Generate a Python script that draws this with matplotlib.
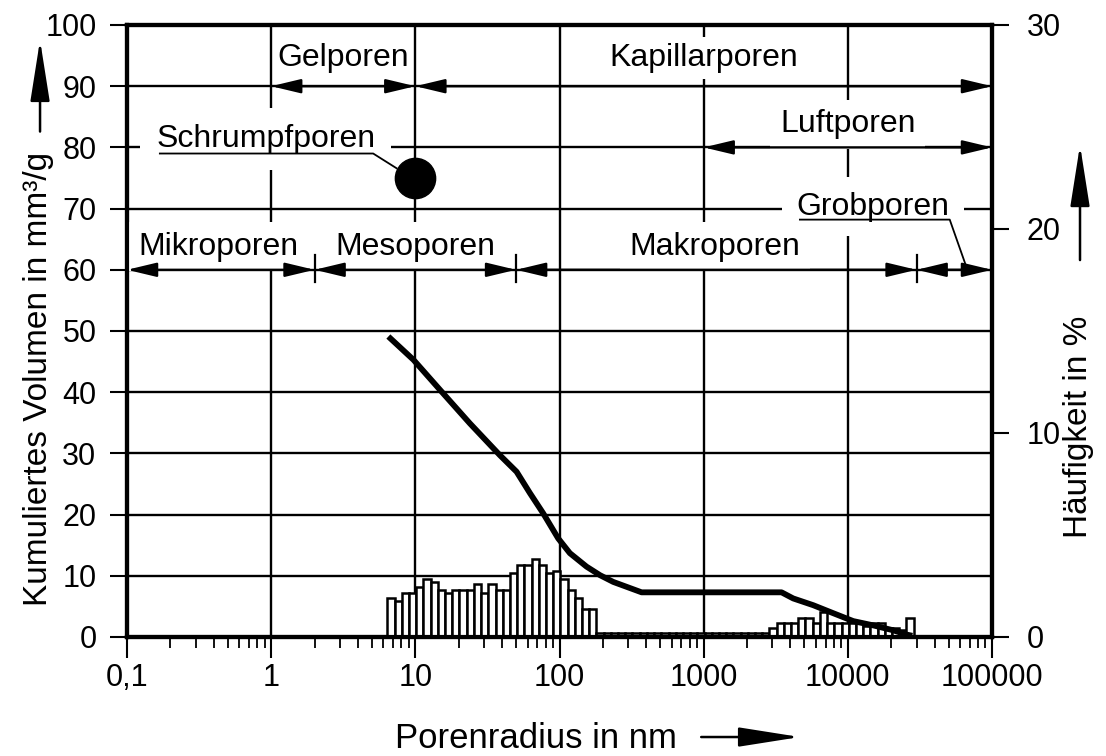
import numpy as np
import matplotlib
matplotlib.use("Agg")
import matplotlib.pyplot as plt
from matplotlib.patches import FancyArrowPatch
from matplotlib.ticker import FixedLocator, FixedFormatter, LogLocator, NullFormatter

plt.rcParams['font.family'] = ['Liberation Sans', 'DejaVu Sans']

# === Data ===
# cumulative pore volume (left axis, mm3/g) over pore radius (nm)
radius_nm = [6.5, 9.7, 15.2, 23.9, 38.6, 50.4, 62.4, 77.1, 98, 118, 154, 191, 236, 292, 371,
             3470, 4180, 5750, 7900, 10900, 15000, 20600, 25500, 28000]
cum_volume = [49.1, 45.3, 40.1, 34.9, 29.7, 27.0, 23.5, 20.2, 16.1, 13.7, 11.5, 10.1, 9.0, 8.2, 7.3,
              7.3, 6.3, 5.2, 3.9, 2.6, 1.9, 1.1, 0.4, 0.2]

# frequency histogram (right axis, %), log bins: 20 per decade starting at 6.4 nm
bin_start_nm = 6.4
bins_per_decade = 20
frequency = [1.90, 1.76, 2.17, 2.17, 2.44, 2.84, 2.71, 2.30, 2.17, 2.30,
             2.30, 2.30, 2.58, 2.17, 2.58, 2.30, 2.30, 3.12, 3.53, 3.53,
             3.81, 3.53, 3.12, 3.25, 2.84, 2.30, 1.90, 1.36, 1.36,
             0.22, 0.22, 0.22, 0.22, 0.22, 0.22, 0.22, 0.22, 0.22, 0.22,
             0.22, 0.22, 0.22, 0.22, 0.22, 0.22, 0.22, 0.22, 0.22, 0.22,
             0.22, 0.22, 0.22, 0.22,
             0.43, 0.70, 0.70, 0.70, 0.95, 0.95, 0.70, 1.24, 0.70, 0.70,
             0.70, 0.70, 0.70, 0.55, 0.70, 0.70, 0.43, 0.43, 0.34, 0.95]

x_ticks = [0.1, 1, 10, 100, 1000, 10000, 100000]
x_labels = ['0,1', '1', '10', '100', '1000', '10000', '100000']
y_left_ticks = [0, 10, 20, 30, 40, 50, 60, 70, 80, 90, 100]
y_right_ticks = [0, 10, 20, 30]

# pore classes: (name, from nm, to nm)
row90_classes = [("Gelporen", 1, 10), ("Kapillarporen", 10, 100000)]
row80_classes = [("Luftporen", 1000, 100000)]
row60_classes = [("Mikroporen", 0.1, 2), ("Mesoporen", 2, 50),
                 ("Makroporen", 50, 30000), ("Grobporen", 30000, 100000)]
shrink_pore = (10, 75)

FS = 22      # tick labels
FS_ANN = 23  # class names
FS_AX = 24   # axis titles

fig = plt.figure(figsize=(11.06, 7.56), dpi=100)
ax1 = fig.add_axes([127 / 1106, 1 - 637 / 756, 865 / 1106, 612 / 756])
ax2 = ax1.twinx()

ax1.set_xscale('log')
ax1.set_xlim(0.1, 100000)
ax1.set_ylim(0, 100)
ax2.set_ylim(0, 30)

# === Grid and axes styling ===
ax1.set_axisbelow(True)
ax1.xaxis.set_major_locator(FixedLocator(x_ticks))
ax1.xaxis.set_major_formatter(FixedFormatter(x_labels))
ax1.xaxis.set_minor_locator(LogLocator(base=10, subs=np.arange(2, 10), numticks=20))
ax1.xaxis.set_minor_formatter(NullFormatter())
ax1.set_yticks(y_left_ticks)
ax2.set_yticks(y_right_ticks)
ax1.grid(True, which='major', color='black', lw=1.7)

for ax in (ax1, ax2):
    for sp in ax.spines.values():
        sp.set_linewidth(3)
ax1.tick_params(axis='x', which='major', direction='out', length=15, width=1.5, labelsize=FS, pad=4)
ax1.tick_params(axis='x', which='minor', direction='out', length=8, width=1.3)
ax1.tick_params(axis='y', direction='out', length=12, width=1.5, labelsize=FS, pad=10)
ax2.tick_params(axis='y', direction='out', length=12, width=1.5, labelsize=FS, pad=13)

# === Histogram bars (right axis) ===
edges = bin_start_nm * 10 ** (np.arange(len(frequency) + 1) / bins_per_decade)
ax2.bar(edges[:-1], frequency, width=np.diff(edges), align='edge',
        facecolor='white', edgecolor='black', linewidth=1.8, zorder=2)

# === Cumulative curve (left axis scale) ===
ax2.plot(radius_nm, cum_volume, transform=ax1.transData, color='black', lw=4.2,
         solid_capstyle='butt', zorder=3)


def dim_arrow(ax, x0, x1, y):
    arr = FancyArrowPatch((x0, y), (x1, y), arrowstyle='<|-|>,head_length=18,head_width=4.3',
                          mutation_scale=1, lw=1.7, color='black', shrinkA=0, shrinkB=0, zorder=5)
    ax.add_patch(arr)


def label(ax, x, y, s, pad):
    ax.text(x, y, s, ha='center', va='center', fontsize=FS_ANN, zorder=4,
            bbox=dict(boxstyle=f'square,pad={pad}', fc='white', ec='none'))


# === Pore class annotations ===
for name, a, b in row90_classes:
    dim_arrow(ax1, a, b, 90)
label(ax1, np.sqrt(1 * 10), 94.6, "Gelporen", 0.05)
label(ax1, 1000, 94.6, "Kapillarporen", 0.2)

for name, a, b in row80_classes:
    dim_arrow(ax1, a, b, 80)
label(ax1, 10000, 83.8, "Luftporen", 0.3)

for name, a, b in row60_classes:
    dim_arrow(ax1, a, b, 60)
for name, a, b in row60_classes[1:]:
    ax1.plot([a, a], [58.0, 62.4], color='black', lw=1.6, zorder=5)
label(ax1, 0.43, 63.8, "Mikroporen", 0.3)
label(ax1, 10.0, 63.8, "Mesoporen", 0.3)
label(ax1, 1200, 63.8, "Makroporen", 0.3)
label(ax1, 15000, 70.3, "Grobporen", 0.45)
ax1.plot([4650, 50900, 66800], [68.2, 68.2, 60.3], color='black', lw=1.3, zorder=5)

# shrinkage pores
label(ax1, 0.92, 81.3, "Schrumpfporen", 0.5)
ax1.plot([0.169, 5.1, 7.4], [79.0, 79.0, 76.6], color='black', lw=1.3, zorder=5)
ax1.plot(*shrink_pore, 'o', ms=29, color='black', zorder=6)

# === Axis labels with arrows ===
fig.text(0.0344, 0.499, "Kumuliertes Volumen in mm³/g", rotation=90, ha='center', va='center', fontsize=FS_AX)
fig.text(0.9747, 0.435, "Häufigkeit in %", rotation=90, ha='center', va='center', fontsize=FS_AX)
fig.text(0.4846, 0.0238, "Porenradius in nm", ha='center', va='center', fontsize=FS_AX + 1)

axis_arrows = [((0.0362, 0.826), (0.0362, 0.947)),
               ((0.9765, 0.656), (0.9765, 0.808)),
               ((0.634, 0.0251), (0.7233, 0.0251))]
for pa, pb in axis_arrows:
    fig.add_artist(FancyArrowPatch(pa, pb, transform=fig.transFigure,
                                   arrowstyle='-|>,head_length=38,head_width=6',
                                   mutation_scale=1, lw=1.8, color='black', shrinkA=0, shrinkB=0))

fig.savefig("out.png", dpi=100)
